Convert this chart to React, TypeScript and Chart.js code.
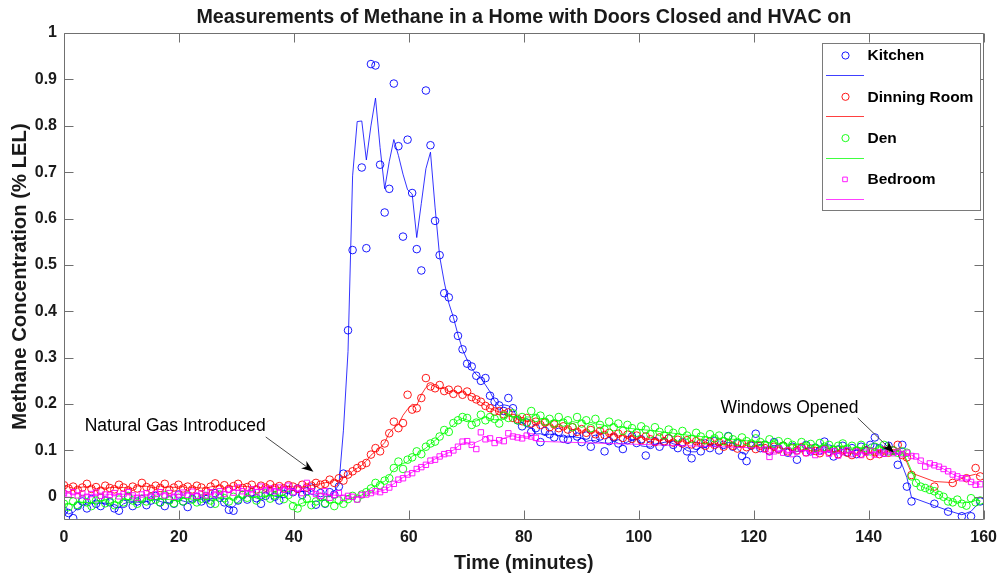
import React, { useEffect, useRef } from "react";
import { Chart, registerables } from "chart.js";

Chart.register(...registerables);

// ---------------- DATA ----------------
const SAMPLE_STEP_MIN = 0.797; // sampling interval of the sensors (minutes)

const seriesNames = ["Kitchen", "Dinning Room", "Den", "Bedroom"];
const seriesColors = ["#0000ff", "#ff0000", "#00ff00", "#ff00ff"];
const seriesMarkers = ["circle", "circle", "circle", "rect"];

const xTickValues = [0, 20, 40, 60, 80, 100, 120, 140, 160];
const yTickValues = [0, 0.1, 0.2, 0.3, 0.4, 0.5, 0.6, 0.7, 0.8, 0.9, 1];

// measured values, one per sample (null = no sample recorded)
const kitchen: (number | null)[] = [
  -0.030, -0.035, -0.046, -0.020, -0.010, -0.025, -0.005, -0.015, -0.020, -0.008,
  -0.012, -0.025, -0.030, -0.015, 0.000, -0.020, -0.010, -0.005, -0.018, -0.008,
  0.002, -0.012, -0.020, -0.006, -0.015, 0.005, -0.010, -0.022, -0.004, 0.000,
  -0.010, -0.005, -0.015, 0.008, -0.002, -0.012, -0.028, -0.030, -0.008, 0.004,
  -0.006, 0.010, -0.003, -0.015, 0.002, 0.012, 0.000, -0.008, 0.006, 0.015,
  0.010, 0.018, 0.004, 0.012, 0.020, -0.017, 0.008, -0.015, 0.010, 0.005,
  0.022, 0.050, 0.359, 0.532, 1.185, 0.710, 0.536, 0.933, 0.930, 0.716,
  0.613, 0.664, 0.891, 0.756, 0.561, 0.770, 0.655, 0.534, 0.488, 0.876,
  0.758, 0.595, 0.521, 0.439, 0.430, 0.384, 0.347, 0.318, 0.287, 0.281,
  0.261, 0.250, 0.256, 0.218, 0.205, 0.197, 0.185, 0.213, 0.191, 0.165,
  0.152, 0.160, 0.140, 0.148, 0.118, 0.142, 0.135, 0.128, 0.140, 0.125,
  0.123, 0.137, 0.130, 0.118, 0.132, 0.108, 0.125, 0.130, 0.098, 0.120,
  0.128, 0.115, 0.103, 0.122, 0.130, 0.116, 0.124, 0.089, 0.112, 0.120,
  0.108, 0.118, 0.126, 0.112, 0.105, 0.118, 0.098, 0.083, 0.110, 0.098,
  0.115, 0.105, 0.120, 0.100, 0.112, 0.131, 0.108, 0.115, 0.088, 0.077,
  0.110, 0.136, 0.105, 0.112, 0.098, 0.118, 0.104, 0.110, 0.095, 0.108,
  0.080, 0.105, 0.112, 0.098, 0.106, 0.100, 0.119, 0.104, 0.087, 0.102,
  0.110, 0.096, 0.105, 0.092, 0.108, 0.100, 0.112, 0.128, 0.105, 0.095,
  0.110, 0.100, 0.069, 0.112, 0.022, -0.010, null, null, null, null,
  -0.015, null, null, -0.032, null, null, -0.042, null, -0.042, null,
  -0.010,
];

const dinningRoom: (number | null)[] = [
  0.025, 0.018, 0.022, 0.015, 0.020, 0.028, 0.017, 0.021, 0.013, 0.024,
  0.019, 0.016, 0.026, 0.020, 0.014, 0.022, 0.018, 0.030, 0.021, 0.017,
  0.024, 0.019, 0.028, 0.015, 0.020, 0.026, 0.018, 0.022, 0.016, 0.024,
  0.020, 0.013, 0.022, 0.029, 0.018, 0.025, 0.017, 0.023, 0.028, 0.019,
  0.021, 0.026, 0.016, 0.024, 0.020, 0.027, 0.019, 0.023, 0.018, 0.025,
  0.022, 0.017, 0.026, 0.020, 0.024, 0.030, 0.026, 0.028, 0.037, 0.030,
  0.040, 0.035, 0.048, 0.055, 0.062, 0.068, 0.073, 0.091, 0.105, 0.098,
  0.115, 0.137, 0.162, 0.148, 0.159, 0.220, 0.188, 0.191, 0.213, 0.256,
  0.238, 0.234, 0.241, 0.228, 0.231, 0.222, 0.231, 0.220, 0.227, 0.215,
  0.210, 0.205, 0.196, 0.191, 0.184, 0.185, 0.178, 0.182, 0.170, 0.168,
  0.163, 0.170, 0.158, 0.162, 0.155, 0.160, 0.150, 0.156, 0.148, 0.152,
  0.145, 0.150, 0.140, 0.146, 0.138, 0.144, 0.135, 0.142, 0.133, 0.138,
  0.130, 0.136, 0.127, 0.134, 0.125, 0.132, 0.122, 0.130, 0.124, 0.118,
  0.128, 0.120, 0.126, 0.117, 0.123, 0.115, 0.122, 0.113, 0.120, 0.116,
  0.110, 0.119, 0.112, 0.117, 0.108, 0.115, 0.110, 0.104, 0.114, 0.107,
  0.112, 0.103, 0.110, 0.105, 0.100, 0.108, 0.102, 0.110, 0.098, 0.105,
  0.100, 0.107, 0.096, 0.104, 0.099, 0.094, 0.103, 0.097, 0.101, 0.092,
  0.100, 0.095, 0.090, 0.098, 0.093, 0.100, 0.088, 0.096, 0.092, 0.100,
  0.095, 0.100, 0.112, 0.090, 0.085, 0.047, null, null, null, null,
  0.022, null, null, null, 0.030, null, null, 0.040, null, 0.062,
  0.044,
];

const den: (number | null)[] = [
  -0.015, -0.022, -0.010, -0.018, -0.005, -0.012, -0.020, -0.008, -0.002, -0.014,
  -0.010, -0.018, -0.006, -0.012, 0.002, -0.008, -0.015, -0.004, -0.010, 0.000,
  -0.006, -0.012, 0.004, -0.008, -0.014, -0.002, -0.010, 0.003, -0.006, -0.012,
  -0.004, 0.002, -0.008, -0.015, 0.005, -0.003, -0.010, 0.000, -0.006, 0.004,
  -0.002, 0.006, -0.008, 0.002, 0.008, -0.004, 0.003, 0.010, -0.005, 0.004,
  -0.020, -0.025, -0.012, -0.004, -0.018, -0.010, 0.000, -0.014, -0.006, -0.020,
  -0.008, -0.015, -0.005, 0.002, -0.004, 0.005, 0.010, 0.018, 0.030, 0.025,
  0.035, 0.040, 0.062, 0.076, 0.060, 0.080, 0.085, 0.098, 0.092, 0.108,
  0.115, 0.119, 0.130, 0.144, 0.140, 0.159, 0.165, 0.172, 0.170, 0.155,
  0.160, 0.177, 0.165, 0.172, 0.168, 0.158, 0.175, 0.170, 0.180, 0.165,
  0.172, 0.160, 0.185, 0.170, 0.175, 0.162, 0.168, 0.158, 0.172, 0.160,
  0.165, 0.150, 0.172, 0.158, 0.165, 0.148, 0.168, 0.155, 0.145, 0.162,
  0.150, 0.158, 0.142, 0.155, 0.148, 0.138, 0.152, 0.145, 0.135, 0.150,
  0.140, 0.132, 0.145, 0.138, 0.128, 0.142, 0.132, 0.125, 0.138, 0.130,
  0.122, 0.135, 0.126, 0.132, 0.120, 0.130, 0.124, 0.118, 0.128, 0.120,
  0.115, 0.126, 0.118, 0.112, 0.124, 0.115, 0.120, 0.110, 0.118, 0.112,
  0.106, 0.118, 0.110, 0.114, 0.105, 0.116, 0.108, 0.112, 0.102, 0.110,
  0.115, 0.104, 0.110, 0.100, 0.112, 0.105, 0.098, 0.108, 0.102, 0.112,
  0.098, 0.100, 0.095, 0.098, 0.095, 0.044, 0.030, 0.022, 0.019, 0.015,
  0.012, 0.004, 0.000, -0.010, -0.012, -0.006, -0.015, -0.019, -0.003, -0.012,
  -0.008,
];

const bedroom: (number | null)[] = [
  0.008, 0.005, 0.010, 0.003, 0.007, 0.000, 0.006, 0.009, 0.002, 0.005,
  0.004, 0.008, 0.001, 0.006, 0.010, 0.003, -0.002, 0.005, 0.008, 0.002,
  0.006, 0.010, 0.003, 0.008, 0.000, 0.005, 0.009, 0.004, 0.011, 0.002,
  0.007, 0.003, 0.010, 0.005, 0.012, 0.006, 0.015, 0.009, 0.020, 0.012,
  0.008, 0.016, 0.010, 0.022, 0.014, 0.018, 0.012, 0.020, 0.015, 0.024,
  0.010, 0.018, 0.008, 0.030, 0.012, 0.006, 0.002, 0.012, -0.002, 0.004,
  0.008, -0.002, 0.002, 0.000, -0.006, 0.004, 0.005, 0.008, 0.012, 0.010,
  0.015, 0.020, 0.028, 0.037, 0.040, 0.048, 0.051, 0.060, 0.064, 0.069,
  0.078, 0.080, 0.087, 0.092, 0.094, 0.100, 0.108, 0.119, 0.120, 0.112,
  0.103, 0.139, 0.124, 0.126, 0.116, 0.122, 0.120, 0.137, 0.130, 0.128,
  0.126, 0.132, 0.130, 0.127, null, null, null, null, null, null,
  null, null, null, null, null, null, null, null, null, null,
  null, null, null, null, null, null, null, null, null, null,
  null, null, null, null, null, null, null, null, null, null,
  null, null, null, null, null, null, null, null, null, null,
  null, null, null, 0.102, 0.086, 0.098, 0.104, 0.095, 0.100, 0.092,
  0.098, 0.105, 0.094, 0.099, 0.090, 0.097, 0.102, 0.093, 0.098, 0.089,
  0.096, 0.100, 0.092, 0.097, 0.090, 0.095, 0.099, 0.091, 0.096, 0.093,
  0.098, 0.094, 0.097, 0.092, 0.095, 0.088, 0.087, 0.078, 0.065, 0.072,
  0.068, 0.065, 0.060, 0.055, 0.048, 0.044, 0.040, 0.040, 0.032, 0.026,
  0.027,
];

const seriesValues = [kitchen, dinningRoom, den, bedroom];

// text annotations, anchored in data coordinates [minutes, %LEL]
const annotations = [
  { text: "Natural Gas Introduced", textAt: [3.6, 0.153], from: [35.1, 0.129], to: [43.4, 0.054] },
  { text: "Windows Opened", textAt: [114.2, 0.192], from: [138.1, 0.17], to: [144.4, 0.095] },
];

// ---------------- HELPERS ----------------
type Pt = { x: number; y: number };

function toPoints(values: (number | null)[]): Pt[] {
  const pts: Pt[] = [];
  values.forEach((v, i) => {
    if (v !== null) pts.push({ x: i * SAMPLE_STEP_MIN, y: v });
  });
  return pts;
}

// 3-sample moving average (the smoothed trace of each room)
function smooth3(pts: Pt[]): Pt[] {
  return pts.map((p, k) => {
    if (k === 0 || k === pts.length - 1) return { x: p.x, y: p.y };
    return { x: p.x, y: (pts[k - 1].y + p.y + pts[k + 1].y) / 3 };
  });
}

const FONT = "'Liberation Sans', Arial, Helvetica, sans-serif";
const TEXT_COLOR = "#1a1a1a";
const AXIS_COLOR = "#707070";
const TICK_LEN = 9;

const framePlugin = {
  id: "matlabFrame",
  afterDatasetsDraw(chart: any) {
    const { ctx, chartArea: a, scales } = chart;
    const x = scales.x;
    const y = scales.y;
    const L = Math.round(a.left) + 0.5;
    const R = Math.round(a.right) - 0.5;
    const T = Math.round(a.top) + 0.5;
    const B = Math.round(a.bottom) - 0.5;
    ctx.save();
    ctx.strokeStyle = AXIS_COLOR;
    ctx.lineWidth = 1;
    ctx.beginPath();
    ctx.rect(L, T, R - L, B - T);
    for (const v of xTickValues) {
      const px = Math.round(x.getPixelForValue(v)) + 0.5;
      ctx.moveTo(px, B);
      ctx.lineTo(px, B - TICK_LEN);
      ctx.moveTo(px, T);
      ctx.lineTo(px, T + TICK_LEN);
    }
    for (const v of yTickValues) {
      const py = Math.round(y.getPixelForValue(v)) + 0.5;
      ctx.moveTo(L, py);
      ctx.lineTo(L + TICK_LEN, py);
      ctx.moveTo(R, py);
      ctx.lineTo(R - TICK_LEN, py);
    }
    ctx.stroke();
    ctx.restore();
  },
};

function drawArrow(ctx: CanvasRenderingContext2D, x1: number, y1: number, x2: number, y2: number) {
  const dx = x2 - x1;
  const dy = y2 - y1;
  const len = Math.hypot(dx, dy);
  const ux = dx / len;
  const uy = dy / len;
  const nx = -uy;
  const ny = ux;
  const headLen = 12;
  const headHalf = 4.5;
  const notch = 3.5;
  const bx = x2 - ux * headLen;
  const by = y2 - uy * headLen;
  const mx = x2 - ux * (headLen - notch);
  const my = y2 - uy * (headLen - notch);
  ctx.strokeStyle = "#333";
  ctx.lineWidth = 0.9;
  ctx.beginPath();
  ctx.moveTo(x1, y1);
  ctx.lineTo(mx, my);
  ctx.stroke();
  ctx.fillStyle = "#000";
  ctx.beginPath();
  ctx.moveTo(x2, y2);
  ctx.lineTo(bx + nx * headHalf, by + ny * headHalf);
  ctx.lineTo(mx, my);
  ctx.lineTo(bx - nx * headHalf, by - ny * headHalf);
  ctx.closePath();
  ctx.fill();
}

const annotationPlugin = {
  id: "matlabAnnotations",
  afterDraw(chart: any) {
    const { ctx, scales } = chart;
    const x = scales.x;
    const y = scales.y;
    ctx.save();
    for (const an of annotations) {
      ctx.font = `17.5px ${FONT}`;
      ctx.fillStyle = "#000";
      ctx.textAlign = "left";
      ctx.textBaseline = "middle";
      ctx.fillText(an.text, x.getPixelForValue(an.textAt[0]), y.getPixelForValue(an.textAt[1]));
      drawArrow(
        ctx,
        x.getPixelForValue(an.from[0]),
        y.getPixelForValue(an.from[1]),
        x.getPixelForValue(an.to[0]),
        y.getPixelForValue(an.to[1])
      );
    }
    ctx.restore();
  },
};

const legendPlugin = {
  id: "matlabLegend",
  afterDraw(chart: any) {
    const { ctx } = chart;
    const left = 822.5;
    const top = 43.5;
    const right = 980.5;
    const bottom = 210.5;
    const rowGap = 41.3;
    ctx.save();
    ctx.fillStyle = "#ffffff";
    ctx.fillRect(left, top, right - left, bottom - top);
    ctx.strokeStyle = "#7a7a7a";
    ctx.lineWidth = 1;
    ctx.strokeRect(left, top, right - left, bottom - top);
    seriesNames.forEach((name, i) => {
      const ym = 55.5 + i * rowGap;
      const yl = Math.round(75 + i * rowGap) + 0.5;
      const c = seriesColors[i];
      ctx.strokeStyle = c;
      ctx.lineWidth = 0.9;
      ctx.beginPath();
      if (seriesMarkers[i] === "rect") {
        ctx.rect(845 - 2.3, ym - 2.3, 4.6, 4.6);
      } else {
        ctx.arc(845.5, ym, 3.6, 0, Math.PI * 2);
      }
      ctx.stroke();
      ctx.lineWidth = 0.75;
      ctx.beginPath();
      ctx.moveTo(826, yl);
      ctx.lineTo(864, yl);
      ctx.stroke();
      ctx.fillStyle = "#000";
      ctx.font = `bold 15.5px ${FONT}`;
      ctx.textAlign = "left";
      ctx.textBaseline = "middle";
      ctx.fillText(name, 867.5, ym + 0.5);
    });
    ctx.restore();
  },
};

export default function App() {
  const canvasRef = useRef<HTMLCanvasElement | null>(null);

  useEffect(() => {
    document.body.style.margin = "0";
    const canvas = canvasRef.current;
    if (!canvas) return;

    const datasets: any[] = [];
    seriesValues.forEach((values, i) => {
      const pts = toPoints(values);
      datasets.push({
        label: seriesNames[i],
        data: pts,
        showLine: false,
        pointStyle: seriesMarkers[i],
        pointRadius: 3.8,
        pointHoverRadius: 3.8,
        pointBorderWidth: 0.9,
        pointBorderColor: seriesColors[i],
        pointBackgroundColor: "rgba(0,0,0,0)",
        order: 8 - i * 2,
      });
      datasets.push({
        label: seriesNames[i] + " (smoothed)",
        data: smooth3(pts),
        showLine: true,
        borderColor: seriesColors[i],
        borderWidth: 0.8,
        pointRadius: 0,
        pointHoverRadius: 0,
        fill: false,
        tension: 0,
        order: 7 - i * 2,
      });
    });

    const tickFont = { family: FONT, size: 16, weight: "bold" as const };
    const titleFont = { family: FONT, size: 19.7, weight: "bold" as const, lineHeight: 1 };
    const yTitleFont = { family: FONT, size: 20.3, weight: "bold" as const, lineHeight: 1 };

    const chart = new Chart(canvas, {
      type: "scatter",
      data: { datasets },
      options: {
        responsive: false,
        animation: false,
        devicePixelRatio: 1,
        events: [],
        layout: { padding: { top: 0, right: 15, left: 0, bottom: 0 } },
        plugins: {
          legend: { display: false },
          tooltip: { enabled: false },
          title: {
            display: true,
            text: "Measurements of Methane in a Home with Doors Closed and HVAC on",
            color: TEXT_COLOR,
            font: titleFont,
            fullSize: false,
            padding: { top: 7.5, bottom: 5.8 },
          },
        },
        scales: {
          x: {
            type: "linear",
            min: 0,
            max: 160,
            afterFit: (s: any) => {
              s.height = 53;
            },
            afterBuildTicks: (s: any) => {
              s.ticks = xTickValues.map((v) => ({ value: v }));
            },
            grid: { display: false, drawTicks: false },
            border: { display: false },
            ticks: {
              color: TEXT_COLOR,
              font: tickFont,
              padding: 8,
              maxRotation: 0,
              autoSkip: false,
              callback: (v: any) => String(v),
            },
            title: {
              display: true,
              text: "Time (minutes)",
              color: TEXT_COLOR,
              font: titleFont,
              padding: { top: 0, bottom: 0 },
            },
          },
          y: {
            type: "linear",
            min: -0.05,
            max: 1,
            afterFit: (s: any) => {
              s.width = 64;
            },
            afterBuildTicks: (s: any) => {
              s.ticks = yTickValues.map((v) => ({ value: v }));
            },
            grid: { display: false, drawTicks: false },
            border: { display: false },
            ticks: {
              color: TEXT_COLOR,
              font: tickFont,
              padding: 7,
              autoSkip: false,
              callback: (v: any) => String(v),
            },
            title: {
              display: true,
              text: "Methane Concentration (% LEL)",
              color: TEXT_COLOR,
              font: yTitleFont,
              padding: { top: 10, bottom: 0 },
            },
          },
        },
      },
      plugins: [framePlugin, annotationPlugin, legendPlugin],
    });

    return () => {
      chart.destroy();
    };
  }, []);

  return (
    <div style={{ width: 1005, height: 573, background: "#ffffff" }}>
      <canvas ref={canvasRef} width={1005} height={573} style={{ display: "block" }} />
    </div>
  );
}
